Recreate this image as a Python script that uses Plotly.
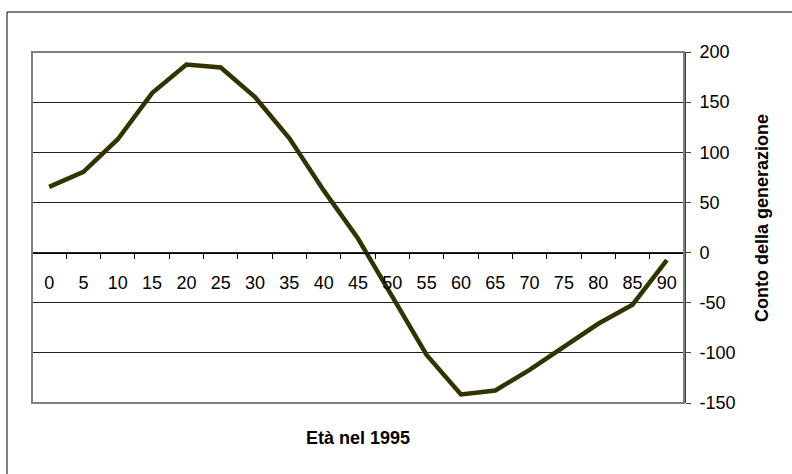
import plotly.graph_objects as go

ages = ["0", "5", "10", "15", "20", "25", "30", "35", "40", "45",
        "50", "55", "60", "65", "70", "75", "80", "85", "90"]
conto = [65.5, 80.5, 113, 159, 187.5, 184.5, 155, 114, 62, 14,
         -44, -102, -141.5, -137.5, -117, -94, -71, -52, -7.5]

y_ticks = [200, 150, 100, 50, 0, -50, -100, -150]
y_tick_labels = ["200", "150", "100", "50", "0", "-50", "-100", "-150"]

FONT = "Liberation Sans, Arial, sans-serif"

fig = go.Figure()
fig.add_trace(go.Scatter(
    x=ages, y=conto, mode="lines",
    line=dict(color="#333300", width=4.5),
    hoverinfo="skip", showlegend=False,
))

fig.update_layout(
    width=792, height=474,
    margin=dict(l=32, r=108, t=52, b=71),
    paper_bgcolor="white", plot_bgcolor="white",
    font=dict(family=FONT, size=18, color="black"),
    xaxis=dict(
        type="category", anchor="free", position=150/350,
        range=[-0.5, len(ages) - 0.5],
        showline=True, linecolor="black", linewidth=1,
        ticks="outside", ticklen=5, tickcolor="black", tickwidth=1,
        tickson="boundaries", showgrid=False, zeroline=False,
        tickfont=dict(size=18, family=FONT), ticklabelstandoff=14,
        fixedrange=True,
    ),
    yaxis=dict(
        side="right", range=[-150, 200],
        tickvals=y_ticks, ticktext=y_tick_labels,
        showline=True, linecolor="#404040", linewidth=2, mirror=False,
        ticks="outside", ticklen=5, tickcolor="#404040",
        showgrid=True, gridcolor="#222222", gridwidth=1, zeroline=False,
        tickfont=dict(size=18, family=FONT), ticklabelstandoff=5,
        fixedrange=True,
    ),
    shapes=[
        dict(type="rect", xref="paper", yref="paper", x0=0, x1=1, y0=0, y1=1,
             line=dict(color="#808080", width=2), layer="above"),
        dict(type="rect", xref="paper", yref="paper",
             x0=(7-32)/652, x1=(830-32)/652, y0=(403-520)/351, y1=(403-12)/351,
             line=dict(color="black", width=1)),
    ],
    annotations=[
        dict(text="<b>Età nel 1995</b>", xref="paper", yref="paper",
             x=0.5, y=(403-438)/351, showarrow=False, yanchor="middle",
             font=dict(size=18, family=FONT)),
        dict(text="<b>Conto della generazione</b>", xref="paper", yref="paper",
             x=(762-32)/652, y=(403-218)/351, showarrow=False, textangle=-90,
             xanchor="center", yanchor="middle", font=dict(size=18, family=FONT)),
    ],
)

fig.write_html("out.html", config={"displayModeBar": False},
               post_script="document.body.style.margin='0px';")
